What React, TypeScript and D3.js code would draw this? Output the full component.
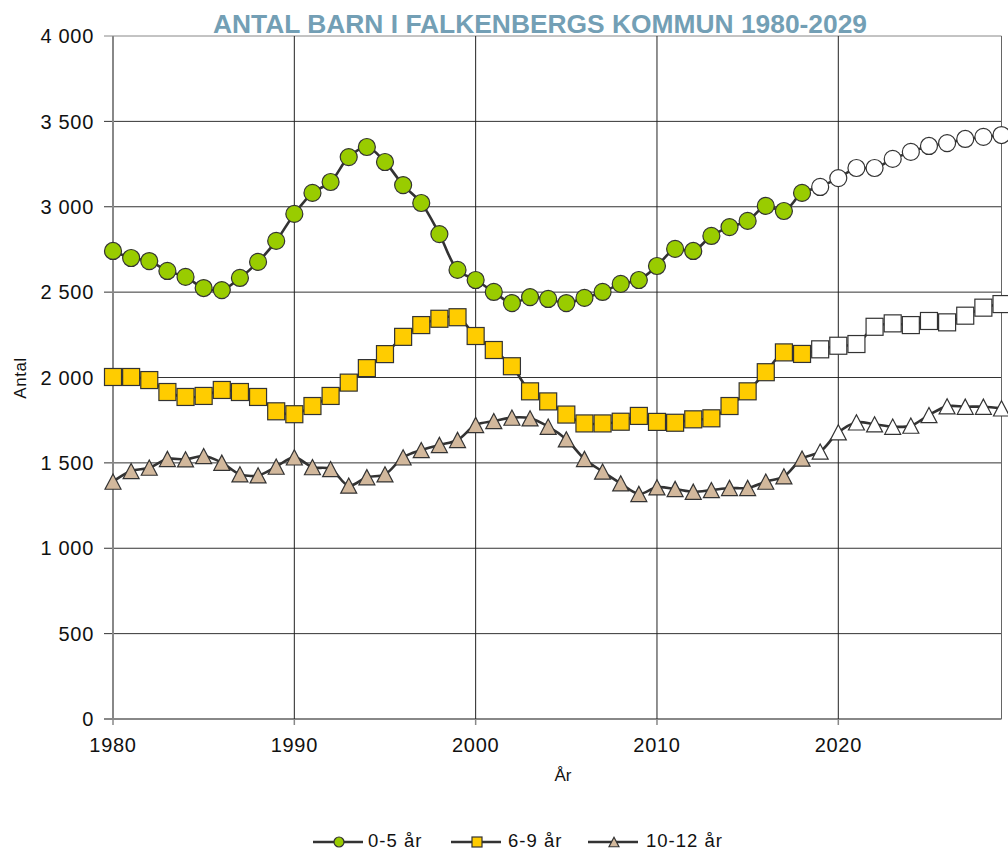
import React from 'react';
import * as d3 from 'd3';

// år 1980-2029, prognos från 2019
const years = d3.range(1980, 2030);
const lastActual = 2018;

const age0to5 = [
  2741, 2700, 2682, 2624, 2589, 2524, 2512, 2583, 2677, 2800,
  2958, 3081, 3145, 3291, 3350, 3262, 3127, 3022, 2840, 2630,
  2571, 2501, 2436, 2471, 2460, 2436, 2466, 2501, 2548, 2571,
  2653, 2753, 2741, 2829, 2881, 2917, 3005, 2975, 3081,
  3116, 3168, 3227, 3227, 3280, 3321, 3356, 3373, 3397, 3409, 3420,
];
const age6to9 = [
  2003, 2003, 1985, 1915, 1886, 1892, 1927, 1915, 1886, 1802,
  1785, 1833, 1892, 1970, 2055, 2137, 2238, 2307, 2344, 2353,
  2243, 2161, 2066, 1919, 1860, 1783, 1731, 1731, 1741, 1775,
  1740, 1735, 1755, 1761, 1833, 1919, 2031, 2147, 2138,
  2165, 2186, 2196, 2297, 2317, 2307, 2331, 2323, 2362, 2409, 2430,
];
const age10to12 = [
  1390, 1452, 1472, 1523, 1521, 1540, 1501, 1433, 1427, 1478,
  1532, 1475, 1464, 1367, 1416, 1433, 1532, 1575, 1605, 1634,
  1722, 1745, 1765, 1761, 1712, 1638, 1523, 1449, 1380, 1318,
  1357, 1347, 1331, 1341, 1353, 1353, 1390, 1421, 1525,
  1566, 1679, 1737, 1726, 1712, 1718, 1780, 1831, 1829, 1829, 1819,
];

const yTicks = [0, 500, 1000, 1500, 2000, 2500, 3000, 3500, 4000];
const xTicks = [1980, 1990, 2000, 2010, 2020];

const W = 1008;
const H = 852;
const m = { left: 113, right: 1001.5, top: 36, bottom: 719 };

const font = '"Liberation Sans", Arial, sans-serif';

type Shape = 'circle' | 'square' | 'triangle';

const seriesList: { name: string; values: number[]; fill: string; shape: Shape }[] = [
  { name: '0-5 år', values: age0to5, fill: '#99CC00', shape: 'circle' },
  { name: '6-9 år', values: age6to9, fill: '#FFCC00', shape: 'square' },
  { name: '10-12 år', values: age10to12, fill: '#D2B89C', shape: 'triangle' },
];

const Marker = ({ shape, x, y, size, fill }: { shape: Shape; x: number; y: number; size: number; fill: string }) => {
  const r = size / 2;
  if (shape === 'circle') return <circle cx={x} cy={y} r={r} fill={fill} stroke="#333" strokeWidth={1.2} />;
  if (shape === 'square') return <rect x={x - r} y={y - r} width={size} height={size} fill={fill} stroke="#333" strokeWidth={1.2} />;
  return (
    <path
      d={`M${x},${y - r * 0.95}L${x + r},${y + r * 0.95}L${x - r},${y + r * 0.95}Z`}
      fill={fill}
      stroke="#333"
      strokeWidth={1.2}
    />
  );
};

export default function App() {
  const x = d3.scaleLinear().domain([1980, 2029]).range([m.left, m.right]);
  const y = d3.scaleLinear().domain([0, 4000]).range([m.bottom, m.top]);
  const fmt = (v: number) => d3.format(',')(v).replace(',', ' ');

  const line = d3
    .line<number>()
    .x((_, i) => x(years[i]))
    .y((d) => y(d))
    .curve(d3.curveCatmullRom.alpha(0.5));

  const legendY = 841;
  const legendItems = [
    { lx: 313, tx: 368 },
    { lx: 451, tx: 508 },
    { lx: 588, tx: 646 },
  ];

  return (
    <svg width={W} height={H} style={{ position: 'absolute', left: 0, top: 0, background: '#fff' }}>
      <text
        x={213}
        y={33}
        textLength={654}
        lengthAdjust="spacingAndGlyphs"
        fontFamily={font}
        fontWeight="bold"
        fontSize={26.5}
        fill="#739FB5"
      >
        ANTAL BARN I FALKENBERGS KOMMUN 1980-2029
      </text>

      {/* rutnät */}
      {yTicks.map((t) => (
        <g key={t}>
          <line x1={m.left - 9} x2={m.right} y1={y(t)} y2={y(t)} stroke={t === 0 || t === 4000 ? '#888' : '#333'} strokeWidth={t === 0 ? 2 : 1} />
          <text x={94} y={y(t)} dy="0.36em" textAnchor="end" fontFamily={font} fontSize={20} letterSpacing={0.7} fill="#111">
            {fmt(t)}
          </text>
        </g>
      ))}
      {xTicks.map((t) => (
        <g key={t}>
          {t !== 1980 && <line x1={x(t)} x2={x(t)} y1={m.top} y2={m.bottom} stroke="#222" strokeWidth={1} />}
          <line x1={x(t)} x2={x(t)} y1={m.bottom} y2={m.bottom + 6} stroke="#888" strokeWidth={1.5} />
          <text x={x(t)} y={745} dy="0.36em" textAnchor="middle" fontFamily={font} fontSize={20} letterSpacing={0.7} fill="#111">
            {t}
          </text>
        </g>
      ))}
      <line x1={x(2029)} x2={x(2029)} y1={m.top} y2={m.bottom} stroke="#666" strokeWidth={1} />
      <line x1={m.left} x2={m.left} y1={m.top} y2={m.bottom + 1} stroke="#888" strokeWidth={2} />

      <text x={563} y={775} dy="0.36em" textAnchor="middle" fontFamily={font} fontSize={17} fill="#111">
        År
      </text>
      <text transform="translate(20,378) rotate(-90)" textAnchor="middle" dy="0.36em" fontFamily={font} fontSize={17} letterSpacing={0.5} fill="#111">
        Antal
      </text>

      {/* serier */}
      {seriesList.map((s) => (
        <path key={s.name + 'l'} d={line(s.values) ?? ''} fill="none" stroke="#333" strokeWidth={2.6} />
      ))}
      {seriesList.map((s) => (
        <g key={s.name}>
          {s.values.map((v, i) => (
            <Marker
              key={i}
              shape={s.shape}
              x={x(years[i])}
              y={y(v)}
              size={s.shape === 'triangle' ? 16 : 17}
              fill={years[i] > lastActual ? '#fff' : s.fill}
            />
          ))}
        </g>
      ))}

      {/* förklaring */}
      {seriesList.map((s, i) => {
        const it = legendItems[i];
        return (
          <g key={s.name + 'leg'}>
            <line x1={it.lx} x2={it.lx + 50} y1={legendY + 1} y2={legendY + 1} stroke="#333" strokeWidth={2.4} />
            <Marker shape={s.shape} x={it.lx + 26} y={legendY + 1} size={10} fill={s.fill} />
            <text x={it.tx} y={legendY} dy="0.34em" fontFamily={font} fontSize={18.5} letterSpacing={1} fill="#111">
              {s.name}
            </text>
          </g>
        );
      })}
    </svg>
  );
}
